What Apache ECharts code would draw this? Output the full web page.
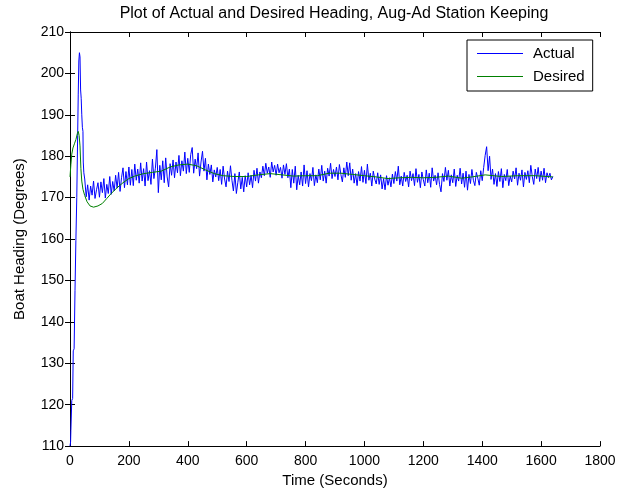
<!DOCTYPE html>
<html>
<head>
<meta charset="utf-8">
<script src="https://cdn.jsdelivr.net/npm/echarts@6/dist/echarts.min.js"></script>
<style>
html,body{margin:0;padding:0;background:#fff;}
#chart{width:627px;height:493px;}
</style>
</head>
<body>
<div id="chart"></div>
<script>
// ---- data ----
const xTicks = [0, 200, 400, 600, 800, 1000, 1200, 1400, 1600, 1800];
const yTicks = [110, 120, 130, 140, 150, 160, 170, 180, 190, 200, 210];

// Actual heading: start-up transient (irregular times)
const earlyTime   = [0, 2, 3, 5, 6, 9, 11, 14, 17, 19, 20, 23, 26, 28, 30, 32, 34, 36, 38, 40, 42, 44, 45, 47];
const earlyActual = [110, 111, 113.8, 114, 121, 121.5, 133, 133.5, 147.6, 148, 159.6, 170, 185, 195, 203, 205, 204, 196, 194, 190, 187, 186, 178.6, 176];

// Actual heading after transient: sampled every 5 s starting at 50 s
const sampleStart = 50;
const sampleStep = 5;
const actualValues = [
  174.5,170.2,173.1,169.4,172.8,170.6,174.0,169.8,171.9,173.6,
  170.1,173.8,171.2,174.6,169.9,173.2,171.0,175.1,170.8,173.9,
  171.6,175.4,172.3,176.1,171.5,174.8,177.2,172.4,176.3,173.1,
  177.4,173.0,176.8,172.9,178.1,174.2,176.9,173.5,178.4,174.0,
  177.0,172.8,178.6,174.1,176.5,173.2,179.3,174.6,177.1,181.6,
  171.2,177.8,174.3,178.9,173.6,179.6,175.0,172.6,178.2,175.4,
  179.1,174.8,178.6,176.0,180.2,175.3,178.9,176.4,181.0,175.8,
  179.5,176.1,180.4,182.1,175.9,179.3,177.0,180.8,175.2,178.6,
  181.2,176.4,179.5,174.3,178.1,175.6,177.9,173.8,176.7,175.0,
  177.3,174.1,176.8,173.2,177.6,174.5,172.6,176.4,173.9,177.7,
  174.2,171.6,175.8,171.0,173.7,176.2,172.1,174.9,171.4,175.3,
  172.6,176.0,173.1,175.4,172.4,176.6,174.0,177.1,173.5,176.2,
  174.8,177.6,175.3,178.3,175.9,177.4,174.9,178.6,176.2,177.8,
  175.4,178.1,176.0,177.3,174.7,177.9,175.6,178.2,174.8,176.9,
  172.4,176.8,173.5,177.6,171.9,175.4,173.1,176.2,172.8,177.9,
  173.4,176.5,172.6,175.8,174.1,177.3,172.9,175.5,173.6,176.9,
  174.3,177.8,174.0,176.4,173.5,177.1,175.2,178.3,174.6,176.8,
  175.1,177.4,174.3,178.0,175.6,173.8,177.2,174.9,178.6,175.3,
  178.4,174.2,176.9,173.5,175.8,172.9,176.3,174.0,177.5,173.7,
  176.6,173.4,178.1,174.2,175.9,172.8,176.4,174.5,173.3,176.0,
  173.2,175.5,172.1,174.6,171.9,175.3,173.0,174.8,172.6,175.7,
  173.4,176.3,174.0,177.6,173.1,175.2,172.8,176.1,173.9,175.4,
  172.6,176.4,174.1,175.8,172.9,177.0,173.7,175.6,172.4,176.2,
  174.3,172.8,176.7,173.6,175.9,172.5,177.2,174.0,175.4,173.1,
  176.0,173.2,171.4,175.8,173.9,177.3,174.2,176.6,172.8,175.5,
  173.6,176.9,172.7,175.4,174.0,177.1,173.3,175.9,172.5,176.4,
  171.8,175.6,173.4,176.8,174.2,172.9,176.1,174.7,173.0,176.5,
  174.1,177.3,180.2,182.3,176.5,180.0,174.4,176.9,173.2,175.8,
  172.7,176.3,173.9,177.0,172.4,175.6,174.1,176.8,172.9,175.2,
  173.8,176.4,174.5,177.2,173.0,175.9,174.2,176.7,172.6,176.1,
  174.4,176.5,173.6,177.8,175.1,173.2,176.9,174.6,177.3,173.9,
  176.4,174.2,177.1,173.6,176.0,174.8,175.9,174.3,175.1
];

// Desired heading
const desiredTime   = [0, 3, 6, 10, 15, 20, 25, 28, 31, 34, 37, 40, 44, 50, 58, 68, 80, 95, 110, 125, 140, 160, 180, 200, 220, 250, 280, 310, 340, 370, 400, 430, 460, 490, 520, 560, 600, 640, 680, 720, 760, 800, 840, 880, 920, 960, 1000, 1040, 1080, 1120, 1160, 1200, 1240, 1285, 1330, 1365, 1410, 1466, 1520, 1580, 1640];
const desiredValues = [175, 178, 180.5, 182, 183, 184, 185.5, 186, 185, 182.5, 177, 174, 172, 170.5, 169, 168, 167.7, 168, 168.6, 169.8, 171, 172.4, 173.6, 174.6, 175.2, 175.8, 176.1, 176.4, 177.4, 177.9, 178.1, 177.7, 176.7, 175.8, 175.3, 175.1, 175.1, 175.5, 175.8, 175.5, 175.2, 175.3, 175.3, 175.9, 175.9, 175.6, 175.3, 175.0, 174.6, 174.8, 174.9, 174.8, 174.9, 175.2, 174.7, 175.0, 175.5, 175.1, 175.3, 175.3, 175.0];

// ---- build series data ----
const actualData = earlyTime.map((t, i) => [t, earlyActual[i]])
  .concat(actualValues.map((v, i) => [sampleStart + i * sampleStep, v]));
const desiredData = desiredTime.map((t, i) => [t, desiredValues[i]]);

const FONT = 'Liberation Sans, Arial, sans-serif';
const chart = echarts.init(document.getElementById('chart'), null, {renderer: 'canvas'});

const axisCommon = {
  type: 'value',
  axisLine: {show: true, lineStyle: {color: '#000', width: 1}},
  axisTick: {show: true, inside: true, length: 5, lineStyle: {color: '#000'}},
  splitLine: {show: false}
};
const lineIcon = 'path://M0,0 L46,0 L46,1 L0,1 Z';

chart.setOption({
  animation: false,
  backgroundColor: '#fff',
  title: {
    text: 'Plot of Actual and Desired Heading, Aug-Ad Station Keeping',
    left: 334, top: 6, padding: 0, textAlign: 'center',
    textStyle: {fontFamily: FONT, fontSize: 16, fontWeight: 'normal', color: '#000'}
  },
  grid: {left: 70, right: 27, top: 32, bottom: 44, containLabel: false},
  legend: {
    left: 467, top: 40,
    orient: 'vertical',
    backgroundColor: '#fff',
    borderColor: '#000', borderWidth: 1,
    padding: [6, 8, 7, 10],
    itemWidth: 46, itemHeight: 14, itemGap: 8,
    textStyle: {fontFamily: FONT, fontSize: 15, color: '#000', padding: [0, 0, 0, 5]},
    data: [
      {name: 'Actual', icon: lineIcon},
      {name: 'Desired', icon: lineIcon}
    ]
  },
  xAxis: [
    Object.assign({}, axisCommon, {
      position: 'bottom', min: xTicks[0], max: xTicks[xTicks.length - 1], interval: 200,
      name: 'Time (Seconds)', nameLocation: 'middle', nameGap: 25,
      nameTextStyle: {fontFamily: FONT, fontSize: 15, color: '#000'},
      axisLabel: {fontFamily: FONT, fontSize: 14, color: '#000', margin: 8, formatter: v => String(v)}
    }),
    Object.assign({}, axisCommon, {
      position: 'top', min: xTicks[0], max: xTicks[xTicks.length - 1], interval: 200,
      axisLabel: {show: false}
    })
  ],
  yAxis: [
    Object.assign({}, axisCommon, {
      position: 'left', min: yTicks[0], max: yTicks[yTicks.length - 1], interval: 10,
      name: 'Boat Heading (Degrees)', nameLocation: 'middle', nameGap: 43,
      nameTextStyle: {fontFamily: FONT, fontSize: 15, color: '#000'},
      axisLabel: {fontFamily: FONT, fontSize: 14, color: '#000', margin: 6, formatter: v => String(v)}
    }),
    Object.assign({}, axisCommon, {
      position: 'right', min: yTicks[0], max: yTicks[yTicks.length - 1], interval: 10,
      axisLabel: {show: false}
    })
  ],
  series: [
    {
      name: 'Actual', type: 'line', data: actualData,
      xAxisIndex: 0, yAxisIndex: 0,
      symbol: 'none', showSymbol: false,
      lineStyle: {color: '#0000ff', width: 1},
      itemStyle: {color: '#0000ff'}
    },
    {
      name: 'Desired', type: 'line', data: desiredData,
      xAxisIndex: 0, yAxisIndex: 0,
      symbol: 'none', showSymbol: false,
      lineStyle: {color: '#008000', width: 1},
      itemStyle: {color: '#008000'}
    }
  ]
});
</script>
</body>
</html>
